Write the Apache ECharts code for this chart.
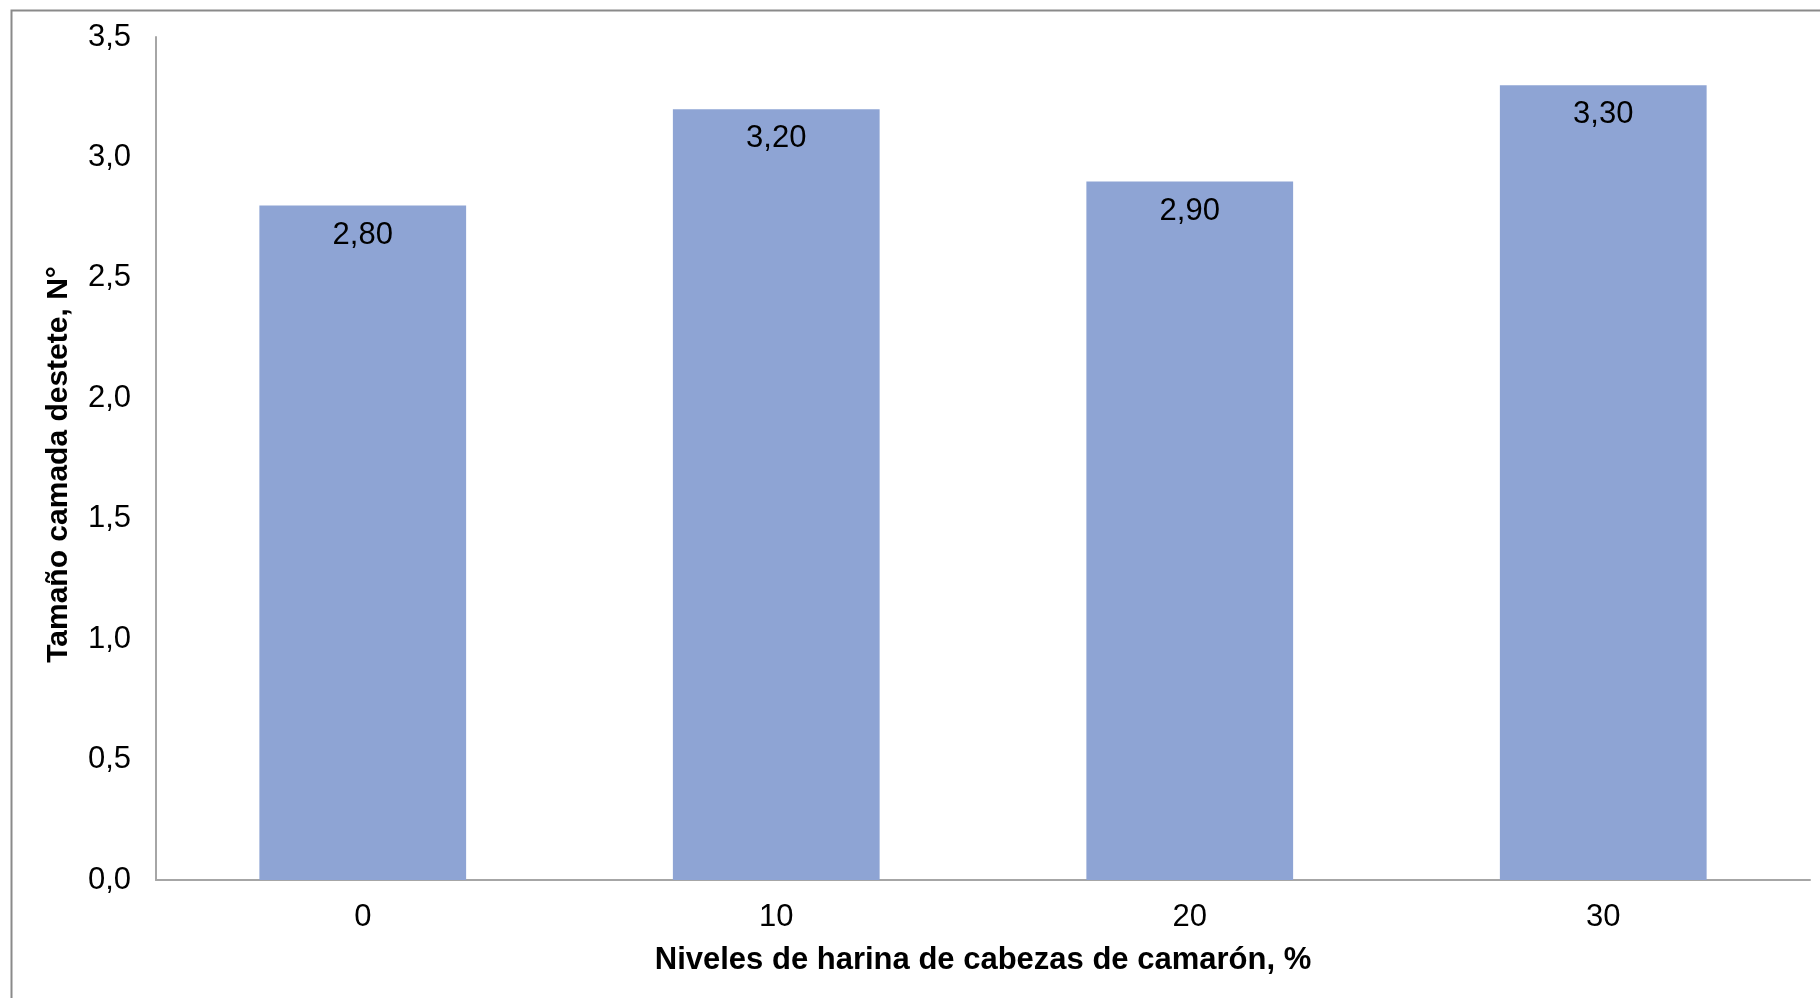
<!DOCTYPE html>
<html>
<head>
<meta charset="utf-8">
<script src="https://cdn.jsdelivr.net/npm/echarts@6/dist/echarts.min.js"></script>
<style>
  html, body { margin: 0; padding: 0; background: #fff; }
  #chart { width: 1820px; height: 998px; }
</style>
</head>
<body>
<div id="chart"></div>
<script>
// Niveles de harina de cabezas de camarón en la dieta (%)
const categories = ['0', '10', '20', '30'];
// Tamaño de camada al destete (N°)
const litterSize = [2.80, 3.20, 2.90, 3.30];
// Escala del eje Y
const yMin = 0;
const yMax = 3.5;
const yStep = 0.5;

const FONT = '"Liberation Sans", Arial, sans-serif';
const decimalComma = (v, d) => v.toFixed(d).replace('.', ',');

const chart = echarts.init(document.getElementById('chart'), null, { renderer: 'canvas' });

chart.setOption({
  backgroundColor: '#ffffff',
  animation: false,
  textStyle: { fontFamily: FONT },
  graphic: [{
    type: 'rect',
    left: 9, top: 8,
    shape: { x: 0, y: 0, width: 1830, height: 1010 },
    style: { fill: 'none', stroke: '#8a8a8a', lineWidth: 2 },
    silent: true
  }],
  grid: { left: 156, top: 37, right: 10, bottom: 118, containLabel: false },
  xAxis: {
    type: 'category',
    data: categories,
    name: 'Niveles de harina de cabezas de camarón, %',
    nameLocation: 'middle',
    nameGap: 65,
    nameTextStyle: { fontFamily: FONT, fontSize: 31, fontWeight: 'bold', color: '#000' },
    axisLine: { lineStyle: { color: '#a6a6a6', width: 2 } },
    axisTick: { show: false },
    axisLabel: { fontFamily: FONT, fontSize: 31, color: '#000', margin: 22 }
  },
  yAxis: {
    type: 'value',
    min: yMin, max: yMax, interval: yStep,
    name: 'Tamaño camada destete, N°',
    nameLocation: 'middle',
    nameGap: 82,
    nameTextStyle: { fontFamily: FONT, fontSize: 30, fontWeight: 'bold', color: '#000', padding: [0, 12, 0, 0] },
    axisLine: { show: true, lineStyle: { color: '#a6a6a6', width: 2 } },
    axisTick: { show: false },
    splitLine: { show: false },
    axisLabel: {
      fontFamily: FONT, fontSize: 31, color: '#000', margin: 25,
      formatter: v => decimalComma(v, 1)
    }
  },
  series: [{
    type: 'bar',
    data: litterSize,
    barWidth: '50%',
    itemStyle: { color: '#8ea4d4' },
    label: {
      show: true,
      position: 'insideTop',
      distance: 14,
      fontFamily: FONT, fontSize: 31, color: '#000',
      formatter: p => decimalComma(p.value, 2)
    }
  }]
});
</script>
</body>
</html>
